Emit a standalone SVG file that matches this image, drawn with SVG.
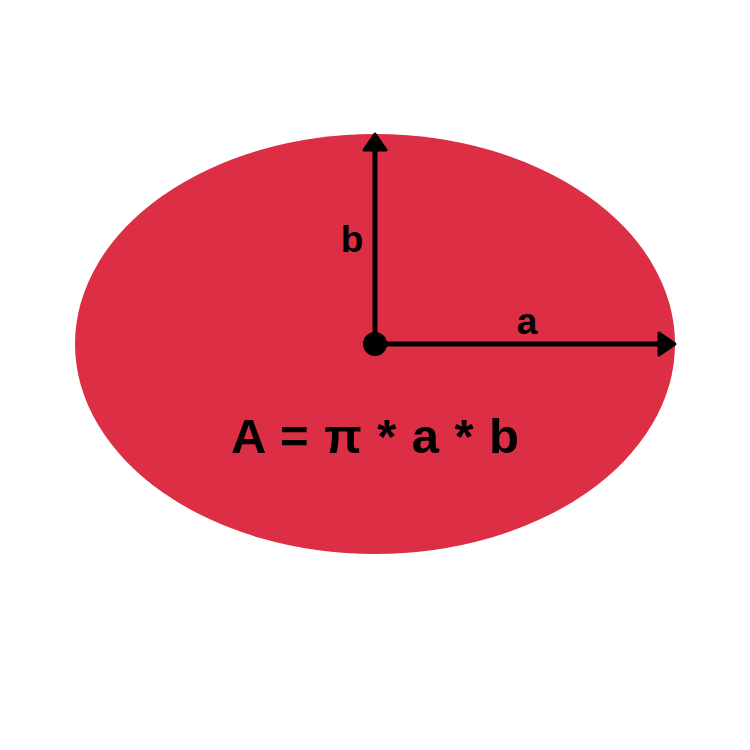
<svg xmlns="http://www.w3.org/2000/svg" width="750" height="750" viewBox="0 0 750 750">
<style>
.lbl{font-family:"Liberation Sans",Arial,sans-serif;font-weight:bold;fill:#000;text-anchor:middle}
.ax{stroke:#000;stroke-width:5;fill:none}
</style>
<rect width="750" height="750" fill="#fff"/>
<g id="ellipse">
<ellipse cx="375" cy="344" rx="300" ry="210" fill="#DC2E44"/>
</g>
<g id="connectors">
<line class="ax" x1="375" y1="344" x2="375" y2="148"/>
<line class="ax" x1="375" y1="344" x2="661" y2="344"/>
<polygon points="375,134 386,150 364,150" fill="#000" stroke="#000" stroke-width="3" stroke-linejoin="round"/>
<polygon points="675,344 659,333 659,355" fill="#000" stroke="#000" stroke-width="3" stroke-linejoin="round"/>
</g>
<g id="center">
<circle cx="375" cy="344" r="12" fill="#000"/>
</g>
<g id="labels">
<text class="lbl" x="352" y="252" font-size="37">b</text>
<text class="lbl" x="527" y="334" font-size="37">a</text>
<text class="lbl" x="375" y="453" font-size="49" textLength="288" lengthAdjust="spacing">A = π * a * b</text>
</g>
</svg>
